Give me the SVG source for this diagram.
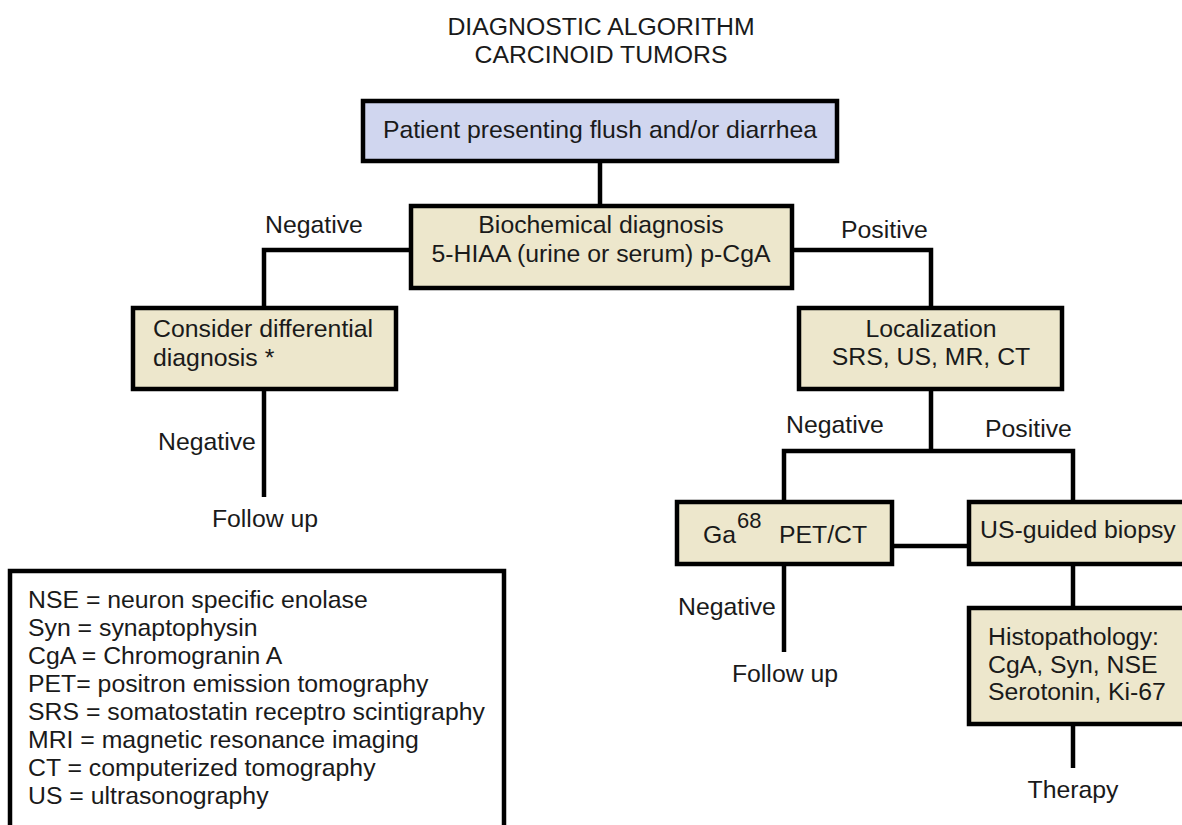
<svg xmlns="http://www.w3.org/2000/svg" width="1182" height="825" viewBox="0 0 1182 825">
<style>
text{font-family:"Liberation Sans",Arial,sans-serif;font-size:24.8px;fill:#1a1a1a}
.c{text-anchor:middle}
.box{stroke:#000;stroke-width:4.5}
.blue{fill:#d0d6ef}
.beige{fill:#ede7cc}
.ln{stroke:#000;stroke-width:4.5;fill:none}
</style>
<rect width="1182" height="825" fill="#fff"/>
<g id="title">
<text class="c" x="601" y="35">DIAGNOSTIC ALGORITHM</text>
<text class="c" x="601" y="63">CARCINOID TUMORS</text>
</g>
<g id="connectors">
<path class="ln" d="M600 161V205"/>
<path class="ln" d="M411 250H264V307"/>
<path class="ln" d="M792 250H931V307"/>
<path class="ln" d="M264 389V497"/>
<path class="ln" d="M931 389V451M784 502V451H1073V502"/>
<path class="ln" d="M892 546H969"/>
<path class="ln" d="M784 564V652"/>
<path class="ln" d="M1073 564V608"/>
<path class="ln" d="M1073 724V768"/>
<text x="265" y="233">Negative</text>
<text x="841" y="238">Positive</text>
<text x="158" y="450">Negative</text>
<text x="786" y="433">Negative</text>
<text x="985" y="437">Positive</text>
<text x="678" y="615">Negative</text>
</g>
<g id="n-patient">
<rect class="box blue" x="363" y="101" width="474" height="60"/>
<text class="c" x="600" y="138">Patient presenting flush and/or diarrhea</text>
</g>
<g id="n-biochem">
<rect class="box beige" x="411" y="206" width="381" height="82"/>
<text class="c" x="601" y="233">Biochemical diagnosis</text>
<text class="c" x="601" y="262">5-HIAA (urine or serum) p-CgA</text>
</g>
<g id="n-differential">
<rect class="box beige" x="133" y="308" width="263" height="81"/>
<text x="153" y="337">Consider differential</text>
<text x="153" y="366">diagnosis *</text>
</g>
<g id="n-followup1">
<text class="c" x="265" y="527">Follow up</text>
</g>
<g id="n-localization">
<rect class="box beige" x="799" y="308" width="263" height="81"/>
<text class="c" x="931" y="337">Localization</text>
<text class="c" x="931" y="365">SRS, US, MR, CT</text>
</g>
<g id="n-ga68">
<rect class="box beige" x="677" y="502" width="215" height="62"/>
<text x="703" y="543">Ga<tspan x="737" dy="-15" font-size="22">68</tspan><tspan x="779" dy="15">PET/CT</tspan></text>
</g>
<g id="n-biopsy">
<rect class="box beige" x="969" y="502" width="240" height="62"/>
<text x="980" y="538">US-guided biopsy</text>
</g>
<g id="n-followup2">
<text class="c" x="785" y="682">Follow up</text>
</g>
<g id="n-histo">
<rect class="box beige" x="969" y="608" width="240" height="116"/>
<text x="988" y="645">Histopathology:</text>
<text x="988" y="673">CgA, Syn, NSE</text>
<text x="988" y="700">Serotonin, Ki-67</text>
</g>
<g id="n-therapy">
<text class="c" x="1073" y="798">Therapy</text>
</g>
<g id="legend">
<rect class="box" fill="#fff" x="10" y="571" width="494" height="280"/>
<text x="28" y="608">NSE = neuron specific enolase</text>
<text x="28" y="636">Syn = synaptophysin</text>
<text x="28" y="664">CgA = Chromogranin A</text>
<text x="28" y="692">PET= positron emission tomography</text>
<text x="28" y="720">SRS = somatostatin receptro scintigraphy</text>
<text x="28" y="748">MRI = magnetic resonance imaging</text>
<text x="28" y="776">CT = computerized tomography</text>
<text x="28" y="804">US = ultrasonography</text>
</g>
</svg>
